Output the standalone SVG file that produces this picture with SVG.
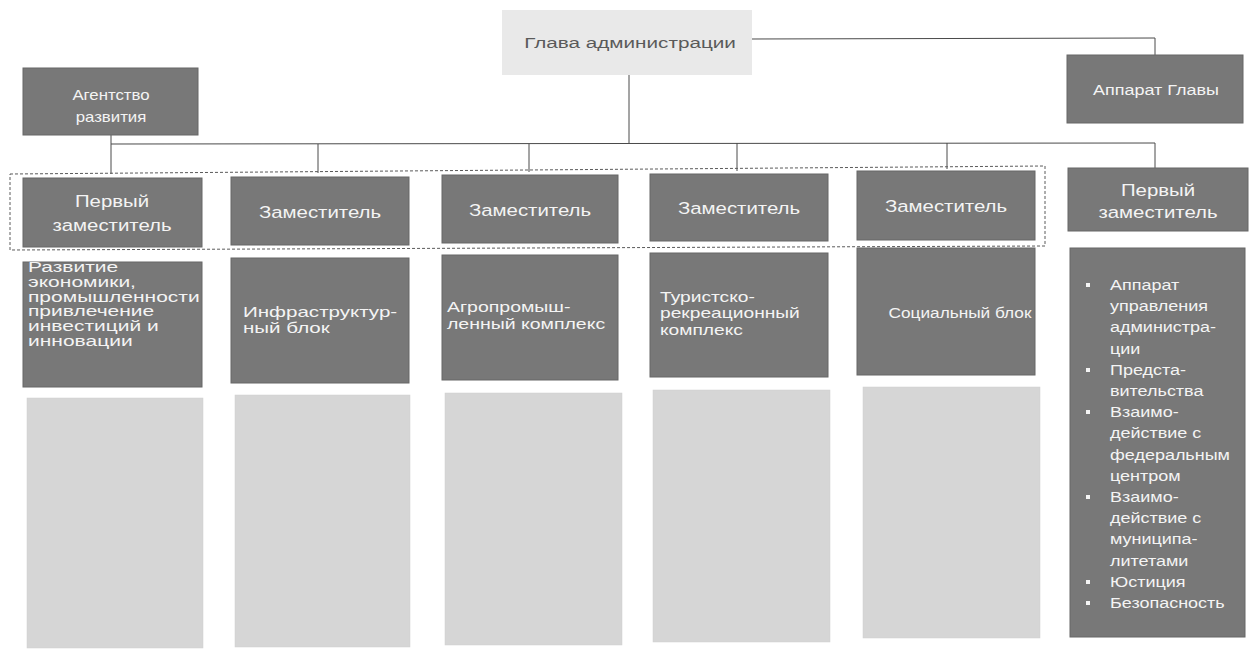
<svg xmlns="http://www.w3.org/2000/svg" width="1251" height="652" viewBox="0 0 1251 652">
<style>
.bg{fill:#ffffff}
.dark{fill:#787878;stroke:#676767;stroke-width:1}
.light{fill:#d6d6d6;stroke:#cfcfcf;stroke-width:0.5}
.head{fill:#e9e9e9}
.wt{font-family:"Liberation Sans",Arial,sans-serif;fill:#f4f4f4}
.gt{font-family:"Liberation Sans",Arial,sans-serif;fill:#5a5a5a}
.c{text-anchor:middle}
.ln{fill:none;stroke:#4a4a4a;stroke-width:1}
.dash{fill:none;stroke:#5a5a5a;stroke-width:1;stroke-dasharray:3 2}
.bul{fill:#f4f4f4}
</style>
<rect class="bg" x="0" y="0" width="1251" height="652"/>

<g id="connectors">
  <polyline class="ln" points="752,39 1155,38 1155,55"/>
  <line class="ln" x1="629" y1="75" x2="629" y2="144"/>
  <line class="ln" x1="111" y1="144" x2="1155" y2="143"/>
  <line class="ln" x1="111" y1="135" x2="111" y2="174"/>
  <line class="ln" x1="318" y1="144" x2="318" y2="173"/>
  <line class="ln" x1="529" y1="144" x2="529" y2="172"/>
  <line class="ln" x1="737" y1="143" x2="737" y2="171"/>
  <line class="ln" x1="947" y1="143" x2="947" y2="169"/>
  <line class="ln" x1="1155" y1="143" x2="1155" y2="168"/>
  <polygon class="dash" points="10,174 1045,166 1045,246 10,250"/>
</g>

<g id="head">
  <rect class="head" x="502" y="10" width="250" height="65"/>
  <text class="gt c" font-size="15" transform="translate(630,48) scale(1.38,1)">Глава администрации</text>
</g>

<g id="agency">
  <rect class="dark" x="23" y="68" width="175" height="67"/>
  <text class="wt c" font-size="14" transform="translate(111,100) scale(1.2,1)"><tspan x="0" y="0">Агентство</tspan><tspan x="0" y="22">развития</tspan></text>
</g>

<g id="apparatus">
  <rect class="dark" x="1067" y="55" width="176" height="68"/>
  <text class="wt c" font-size="15" transform="translate(1156,95) scale(1.2,1)">Аппарат Главы</text>
</g>

<g id="dep1">
  <rect class="dark" x="23" y="178" width="179" height="69"/>
  <text class="wt c" font-size="17" transform="translate(112,207) scale(1.2,1)"><tspan x="0" y="0">Первый</tspan><tspan x="0" y="24">заместитель</tspan></text>
</g>
<g id="dep2">
  <rect class="dark" x="231" y="177" width="178" height="68"/>
  <text class="wt c" font-size="17" transform="translate(320,218) scale(1.2,1)">Заместитель</text>
</g>
<g id="dep3">
  <rect class="dark" x="442" y="175" width="176" height="68"/>
  <text class="wt c" font-size="17" transform="translate(530,216) scale(1.2,1)">Заместитель</text>
</g>
<g id="dep4">
  <rect class="dark" x="650" y="174" width="178" height="67"/>
  <text class="wt c" font-size="17" transform="translate(739,214) scale(1.2,1)">Заместитель</text>
</g>
<g id="dep5">
  <rect class="dark" x="857" y="171" width="178" height="69"/>
  <text class="wt c" font-size="17" transform="translate(946,212) scale(1.2,1)">Заместитель</text>
</g>
<g id="dep6">
  <rect class="dark" x="1068" y="168" width="180" height="63"/>
  <text class="wt c" font-size="17" transform="translate(1158,196) scale(1.2,1)"><tspan x="0" y="0">Первый</tspan><tspan x="0" y="22">заместитель</tspan></text>
</g>

<g id="block1">
  <rect class="dark" x="23" y="262" width="179" height="125"/>
  <text class="wt" font-size="15" transform="translate(28,272) scale(1.4,1)"><tspan x="0" y="0">Развитие</tspan><tspan x="0" y="14.8">экономики,</tspan><tspan x="0" y="29.6">промышленности</tspan><tspan x="0" y="44.4">привлечение</tspan><tspan x="0" y="59.2">инвестиций и</tspan><tspan x="0" y="74">инновации</tspan></text>
</g>
<g id="block2">
  <rect class="dark" x="231" y="258" width="178" height="125"/>
  <text class="wt" font-size="15" transform="translate(243,317) scale(1.37,1)"><tspan x="0" y="0">Инфраструктур-</tspan><tspan x="0" y="16">ный блок</tspan></text>
</g>
<g id="block3">
  <rect class="dark" x="442" y="255" width="176" height="125"/>
  <text class="wt" font-size="15" transform="translate(447,312) scale(1.3,1)"><tspan x="0" y="0">Агропромыш-</tspan><tspan x="0" y="17">ленный комплекс</tspan></text>
</g>
<g id="block4">
  <rect class="dark" x="650" y="253" width="178" height="124"/>
  <text class="wt" font-size="15" transform="translate(660,302) scale(1.28,1)"><tspan x="0" y="0">Туристско-</tspan><tspan x="0" y="16.5">рекреационный</tspan><tspan x="0" y="33">комплекс</tspan></text>
</g>
<g id="block5">
  <rect class="dark" x="857" y="248" width="178" height="127"/>
  <text class="wt c" font-size="15" transform="translate(960,318) scale(1.15,1)">Социальный блок</text>
</g>

<g id="block6">
  <rect class="dark" x="1070" y="248" width="175" height="389"/>
  <g class="bul">
    <rect x="1086" y="283" width="4" height="4"/>
    <rect x="1086" y="368" width="4" height="4"/>
    <rect x="1086" y="410" width="4" height="4"/>
    <rect x="1086" y="495" width="4" height="4"/>
    <rect x="1086" y="580" width="4" height="4"/>
    <rect x="1086" y="601" width="4" height="4"/>
  </g>
  <text class="wt" font-size="15" transform="translate(1110,290) scale(1.2,1)"><tspan x="0" y="0">Аппарат</tspan><tspan x="0" y="21.2">управления</tspan><tspan x="0" y="42.4">администра-</tspan><tspan x="0" y="63.6">ции</tspan><tspan x="0" y="84.8">Предста-</tspan><tspan x="0" y="106">вительства</tspan><tspan x="0" y="127.2">Взаимо-</tspan><tspan x="0" y="148.4">действие с</tspan><tspan x="0" y="169.6">федеральным</tspan><tspan x="0" y="190.8">центром</tspan><tspan x="0" y="212">Взаимо-</tspan><tspan x="0" y="233.2">действие с</tspan><tspan x="0" y="254.4">муниципа-</tspan><tspan x="0" y="275.6">литетами</tspan><tspan x="0" y="296.8">Юстиция</tspan><tspan x="0" y="318">Безопасность</tspan></text>
</g>

<g id="detail1"><rect class="light" x="27" y="398" width="176" height="250"/></g>
<g id="detail2"><rect class="light" x="235" y="395" width="175" height="252"/></g>
<g id="detail3"><rect class="light" x="445" y="393" width="177" height="252"/></g>
<g id="detail4"><rect class="light" x="653" y="390" width="177" height="252"/></g>
<g id="detail5"><rect class="light" x="863" y="387" width="177" height="251"/></g>
</svg>
